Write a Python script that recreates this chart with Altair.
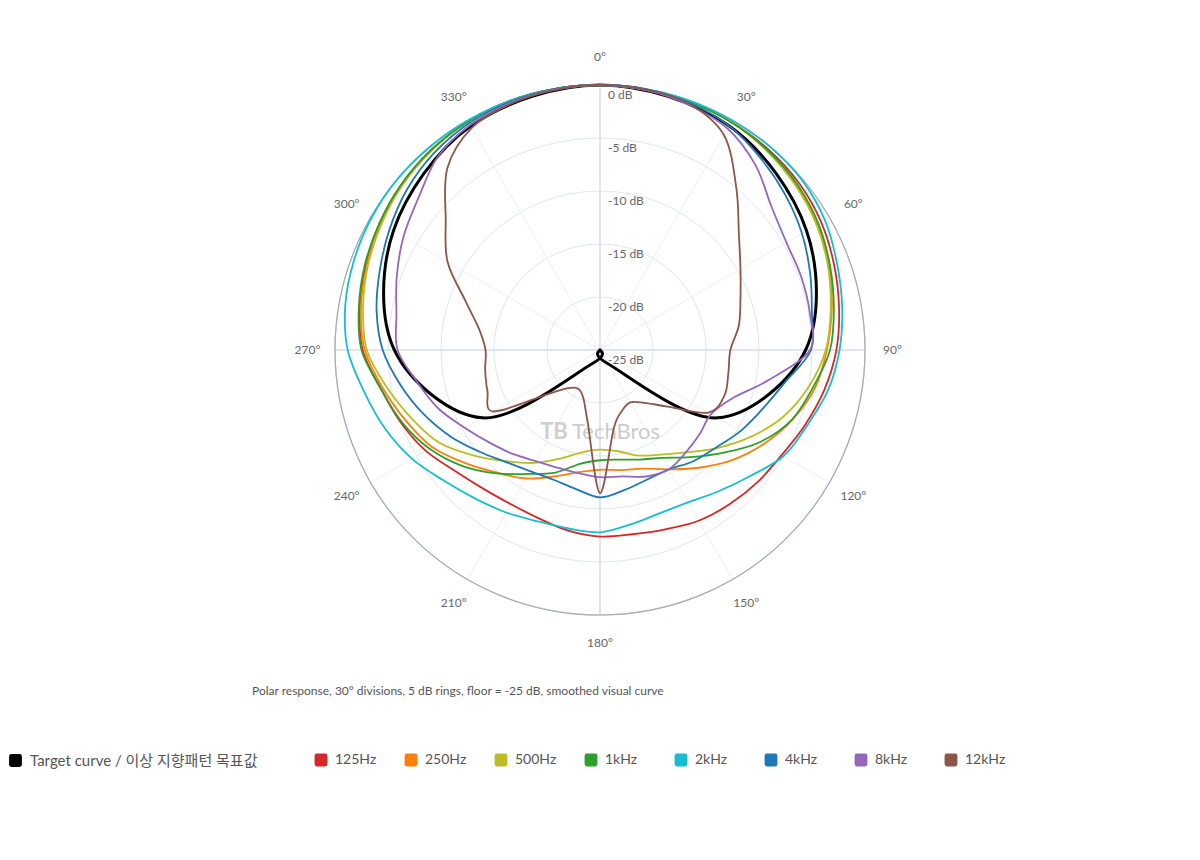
import math
import altair as alt
import pandas as pd

# ---------------------------------------------------------------- data
ANGLES = list(range(0, 360, 10))

TARGET_LABEL = "Target curve / 이상 지향패턴 목표값"
TARGET_ANGLES = list(range(0, 360, 30))
TARGET_DB = [0.0, -0.6, -2.5, -5.6, -12.2, -23.5, -25.0, -23.5, -12.2, -5.6, -2.5, -0.6]

SERIES = ["125Hz", "250Hz", "500Hz", "1kHz", "2kHz", "4kHz", "8kHz", "12kHz"]
COLORS = ["#d62728", "#ff7f0e", "#bcbd22", "#2ca02c", "#17becf", "#1f77b4", "#9467bd", "#8c564b"]

DB_125HZ = [0, -0.05, -0.1, -0.2, -0.3, -0.5, -0.9, -1.5, -2.1, -2.7, -3.5, -4.4,
            -5.2, -5.6, -6.0, -6.4, -7.0, -7.35, -7.4, -7.7, -8.1, -8.2, -7.9, -7.2,
            -6.0, -5.0, -4.0, -2.6, -2.0, -1.5, -1.0, -0.6, -0.3, -0.1, 0, 0]
DB_250HZ = [0, -0.05, -0.1, -0.2, -0.45, -0.8, -1.3, -2.0, -2.8, -3.6, -4.4, -5.7,
            -7.2, -8.8, -10.5, -12.0, -13.1, -13.5, -13.7, -13.3, -12.3, -11.0, -9.9, -8.4,
            -6.7, -5.5, -4.2, -2.8, -2.1, -1.6, -1.1, -0.7, -0.35, -0.1, 0, 0]
DB_500HZ = [0, -0.05, -0.1, -0.2, -0.5, -0.9, -1.4, -2.1, -2.9, -3.7, -5.0, -6.6,
            -8.6, -10.6, -12.4, -13.6, -14.4, -15.3, -15.6, -15.2, -14.1, -12.7, -11.3, -9.5,
            -7.5, -6.1, -4.6, -3.0, -2.3, -1.7, -1.2, -0.7, -0.35, -0.1, 0, 0]
DB_1KHZ = [0, -0.05, -0.1, -0.2, -0.4, -0.7, -1.2, -1.9, -2.6, -3.3, -4.6, -5.75,
           -7.6, -9.9, -11.8, -13.25, -14.0, -14.5, -14.6, -14.1, -12.7, -11.5, -9.8, -8.0,
           -6.4, -5.1, -4.0, -2.5, -1.9, -1.4, -1.0, -0.6, -0.3, -0.1, 0, 0]
DB_2KHZ = [0, 0, 0, 0, 0, -0.1, -0.5, -1.2, -1.8, -2.4, -3.15, -4.2,
           -5.0, -6.5, -7.6, -8.4, -8.6, -8.3, -7.8, -7.9, -7.8, -7.3, -6.7, -5.8,
           -4.5, -3.4, -2.4, -1.2, -0.6, -0.3, -0.1, 0, 0, 0, 0, 0]
DB_4KHZ = [0, 0, -0.2, -0.6, -1.4, -2.2, -3.0, -3.9, -4.7, -5.1, -7.3, -8.7,
           -9.7, -10.7, -11.3, -12.0, -12.0, -11.6, -11.1, -11.7, -12.0, -11.8, -11.2, -10.1,
           -8.7, -7.3, -5.9, -4.5, -3.6, -2.9, -2.1, -1.3, -0.7, -0.3, -0.1, 0]
DB_8KHZ = [0, -0.1, -0.4, -0.9, -2.2, -3.9, -4.7, -4.8, -4.9, -5.2, -8.8, -11.7,
           -12.9, -12.7, -12.4, -12.0, -12.3, -12.9, -13.0, -13.2, -13.2, -12.9, -12.2, -11.4,
           -10.3, -8.8, -7.5, -5.9, -5.5, -4.6, -3.6, -2.65, -1.2, -0.5, -0.2, -0.05]
DB_12KHZ = [0, -0.05, -0.3, -1.6, -5.0, -7.9, -9.7, -10.9, -11.7, -12.7, -12.7, -12.5,
            -13.2, -16.7, -18.5, -19.3, -18.9, -17.5, -11.5, -18.2, -20.3, -20.8, -20.3, -18.5,
            -13.4, -13.7, -14.0, -14.2, -13.4, -11.5, -8.4, -6.0, -2.6, -0.8, -0.3, -0.1]
SERIES_DB = [DB_125HZ, DB_250HZ, DB_500HZ, DB_1KHZ, DB_2KHZ, DB_4KHZ, DB_8KHZ, DB_12KHZ]

RING_DB = [-20, -15, -10, -5]
OUTER_DB = [0]
RING_LABEL_DB = [0, -5, -10, -15, -20, -25]
SPOKE_ANGLES = list(range(0, 360, 30))
MAIN_AXES = [0, 90, 180, 270]
CAPTION = "Polar response, 30° divisions, 5 dB rings, floor = -25 dB, smoothed visual curve"
WATERMARK = "TechBros"

# ---------------------------------------------------------------- tables
curve_rows = []
for name, vals in zip(SERIES, SERIES_DB):
    for a, v in zip(ANGLES, vals):
        curve_rows.append({"series": name, "angle": a, "db": v})
curves = pd.DataFrame(curve_rows)
target = pd.DataFrame({"series": TARGET_LABEL, "angle": TARGET_ANGLES, "db": TARGET_DB})

# ---------------------------------------------------------------- layout
FONT = "Lato, 'Noto Sans CJK KR', sans-serif"
W, H = 1184, 800
R = 265.0            # pixel radius of the 0 dB ring
CX, CY = 592, 342    # polar centre inside the plot area
xs = alt.Scale(domain=[-CX / R, (W - CX) / R], nice=False, zero=False)
ys = alt.Scale(domain=[-(H - CY) / R, CY / R], nice=False, zero=False)
rs = alt.Scale(type="linear", domain=[-25, 0], range=[0, R], zero=False, nice=False)
ROUNDED = ("M-0.62,-1L0.62,-1Q1,-1 1,-0.62L1,0.62Q1,1 0.62,1L-0.62,1"
           "Q-1,1 -1,0.62L-1,-0.62Q-1,-1 -0.62,-1Z")


def polar(chart, rr="(datum.db + 25) / 25"):
    return chart.transform_calculate(rr=rr, ox="0", oy="0").transform_calculate(
        px="datum.rr * sin(datum.angle * PI / 180)",
        py="datum.rr * cos(datum.angle * PI / 180)",
    )


def origin(chart):
    return chart.transform_calculate(ox="0", oy="0")


X = alt.X("px:Q", scale=xs, axis=None)
Y = alt.Y("py:Q", scale=ys, axis=None)
X0 = alt.X("ox:Q", scale=xs, axis=None)
Y0 = alt.Y("oy:Q", scale=ys, axis=None)

spokes = polar(alt.Chart(pd.DataFrame({"angle": SPOKE_ANGLES})), rr="1").mark_rule(
    stroke="#eceff3", strokeWidth=1
).encode(x=X0, y=Y0, x2="px:Q", y2="py:Q")

rings = origin(alt.Chart(pd.DataFrame({"db": RING_DB}))).mark_arc(
    filled=False, stroke="#e1e6ec", strokeWidth=1, theta=0, theta2=2 * math.pi
).encode(x=X0, y=Y0, radius=alt.Radius("db:Q", scale=rs, stack=False))

main_axes = polar(alt.Chart(pd.DataFrame({"angle": MAIN_AXES})), rr="1").mark_rule(
    stroke="#d8dee6", strokeWidth=1.5
).encode(x=X0, y=Y0, x2="px:Q", y2="py:Q")

outer = origin(alt.Chart(pd.DataFrame({"db": OUTER_DB}))).mark_arc(
    filled=False, stroke="#a4acb4", strokeWidth=1.2, theta=0, theta2=2 * math.pi
).encode(x=X0, y=Y0, radius=alt.Radius("db:Q", scale=rs, stack=False))

angle_labels = polar(
    alt.Chart(pd.DataFrame({"angle": SPOKE_ANGLES})).transform_calculate(
        label="datum.angle + '°'"
    ),
    rr="1.104",
).mark_text(fontSize=12, color="#666666", align="center", baseline="middle", font=FONT).encode(
    x=X, y=Y, text="label:N"
)

db_labels = polar(
    alt.Chart(pd.DataFrame({"db": RING_LABEL_DB})).transform_calculate(
        angle="0", label="datum.db + ' dB'"
    )
).mark_text(fontSize=12, color="#666666", align="left", baseline="middle", dx=8, dy=10, font=FONT).encode(
    x=X, y=Y, text="label:N"
)

watermark = origin(alt.Chart(pd.DataFrame({"text": [WATERMARK]}))).mark_text(
    fontSize=22, color="#cccccc", align="center", baseline="middle", dx=16, dy=82, font=FONT
).encode(x=X0, y=Y0, text="text:N")
watermark_icon = origin(alt.Chart(pd.DataFrame({"text": ["TB"]}))).mark_text(
    fontSize=22, fontWeight="bold", color="#cfcfcf", align="center", baseline="middle",
    dx=-46, dy=82, font=FONT
).encode(x=X0, y=Y0, text="text:N")

color_scale = alt.Scale(domain=[TARGET_LABEL] + SERIES, range=["#000000"] + COLORS)

target_line = polar(alt.Chart(target)).mark_line(
    interpolate="cardinal-closed", tension=0, strokeWidth=3
).encode(
    x=X, y=Y,
    color=alt.Color("series:N", scale=color_scale, legend=None),
    order=alt.Order("angle:Q"),
)

freq_lines = polar(alt.Chart(curves)).mark_line(
    interpolate="cardinal-closed", tension=0, strokeWidth=1.8
).encode(
    x=X, y=Y,
    color=alt.Color("series:N", scale=color_scale, legend=None),
    order=alt.Order("angle:Q"),
)


def legend(x, cols, size):
    return alt.Legend(
        title=None, orient="none", legendX=x, legendY=745, direction="horizontal",
        columns=cols, columnPadding=27, gridAlign="all", symbolType=ROUNDED,
        symbolSize=165, symbolStrokeWidth=0, symbolOpacity=1, labelFontSize=size,
        labelColor="#555555", labelFont=FONT, labelOffset=7, labelLimit=400, padding=0,
    )


leg_target = origin(alt.Chart(pd.DataFrame({"series": [TARGET_LABEL]}))).mark_point(
    filled=True, opacity=0, shape=ROUNDED
).encode(
    x=X0, y=Y0,
    fill=alt.Fill("series:N", scale=alt.Scale(domain=[TARGET_LABEL], range=["#000000"]),
                  legend=legend(0, 1, 15)),
)

leg_freq = origin(alt.Chart(pd.DataFrame({"series": SERIES}))).mark_point(
    filled=True, opacity=0, shape=ROUNDED
).encode(
    x=X0, y=Y0,
    fill=alt.Fill("series:N", scale=alt.Scale(domain=SERIES, range=COLORS),
                  legend=legend(306, 8, 14)),
)

chart = (
    alt.layer(
        spokes, rings, main_axes, outer, angle_labels, db_labels, watermark, watermark_icon,
        target_line, freq_lines, leg_target, leg_freq,
    )
    .resolve_scale(fill="independent")
    .properties(
        width=W, height=H, padding=0, background="white",
        autosize=alt.AutoSizeParams(type="none"),
        title=alt.Title(CAPTION, orient="bottom", anchor="start", frame="group", dx=244,
                        dy=-117, offset=0, baseline="middle", fontSize=12,
                        fontWeight="normal", color="#555555", font=FONT),
    )
    .configure(font=FONT)
    .configure_view(strokeWidth=0)
)

chart.save("out.html", embed_options={"renderer": "svg", "actions": False})
